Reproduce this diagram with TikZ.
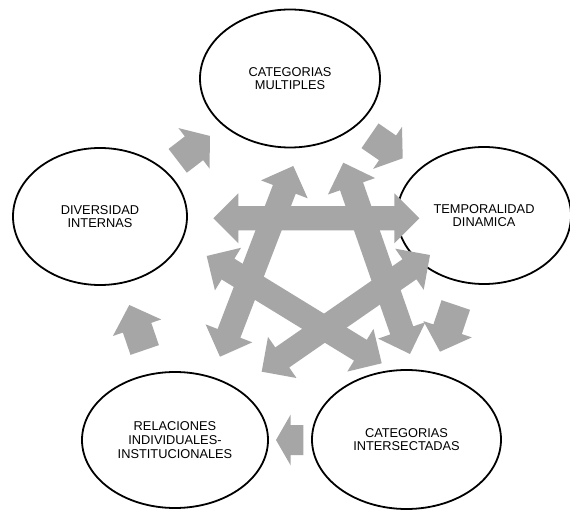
\documentclass[tikz,border=0pt]{standalone}
\usepackage{fontspec}
\setmainfont{Liberation Sans}
\usetikzlibrary{calc,shapes.geometric}
\definecolor{grayfill}{RGB}{166,166,166}
\tikzset{
  circ/.style={ellipse, draw=black, line width=1.8pt, inner sep=0pt, align=center,
    font=\fontsize{12.8}{13.6}\selectfont},
  arrowfill/.style={fill=grayfill, draw=none},
}
% double-headed block arrow: prefix, tip 1, tip 2
\newcommand\dblarrow[3]{%
  \coordinate (#1-m1) at ($(#2)!25pt!(#3)$);
  \coordinate (#1-m2) at ($(#3)!25pt!(#2)$);
  \fill[arrowfill] (#2) -- ($(#1-m1)!25pt!90:(#3)$) -- ($(#1-m1)!12.2pt!90:(#3)$)
    -- ($(#1-m2)!12.2pt!-90:(#2)$) -- ($(#1-m2)!25pt!-90:(#2)$) -- (#3)
    -- ($(#1-m2)!25pt!90:(#2)$) -- ($(#1-m2)!12.2pt!90:(#2)$)
    -- ($(#1-m1)!12.2pt!-90:(#3)$) -- ($(#1-m1)!25pt!-90:(#3)$) -- cycle;
}
% single block arrow: prefix, tail, tip, head length
\newcommand\blkarrow[4]{%
  \coordinate (#1-h) at ($(#3)!#4pt!(#2)$);
  \fill[arrowfill] ($(#2)!15pt!90:(#3)$) -- ($(#1-h)!15pt!90:(#3)$)
    -- ($(#1-h)!25.5pt!90:(#3)$) -- (#3) -- ($(#1-h)!25.5pt!-90:(#3)$)
    -- ($(#1-h)!15pt!-90:(#3)$) -- ($(#2)!15pt!-90:(#3)$) -- cycle;
}
\begin{document}
\begin{tikzpicture}[x=1pt,y=-1pt]
\useasboundingbox (0,0) rectangle (570,510);
\fill[white] (0,0) rectangle (570,510);

% ellipses
\node[circ, minimum width=180pt, minimum height=138pt] (top) at (290,78.5) {CATEGORIAS\\MULTIPLES};
\node[circ, minimum width=174pt, minimum height=137pt] (left) at (100,216.5) {DIVERSIDAD\\INTERNAS};
\node[circ, minimum width=174pt, minimum height=137pt] (right) at (484,215.5) {TEMPORALIDAD\\DINAMICA};
\node[circ, minimum width=189pt, minimum height=139pt] (bright) at (406.5,439.5) {CATEGORIAS\\INTERSECTADAS};
\node[circ, minimum width=186pt, minimum height=136pt] (bleft) at (175,440) {RELACIONES\\INDIVIDUALES-\\INSTITUCIONALES};

% central pentagram of double arrows
\coordinate (h1) at (213.3,218.3); \coordinate (h2) at (419.3,218.3);
\coordinate (a1) at (220,356.7);   \coordinate (a2) at (293.3,166);
\coordinate (b1) at (343.3,162.7); \coordinate (b2) at (410,354);
\coordinate (c1) at (206.7,256);   \coordinate (c2) at (381.7,363.3);
\coordinate (d1) at (430,255);     \coordinate (d2) at (261.7,371.7);
\dblarrow{H}{h1}{h2}
\dblarrow{A}{a1}{a2}
\dblarrow{B}{b1}{b2}
\dblarrow{C}{c1}{c2}
\dblarrow{D}{d1}{d2}

% cycle arrows
\coordinate (k1t) at (177.7,160.8); \coordinate (k1p) at (210,136);
\coordinate (k2t) at (370,135.8);   \coordinate (k2p) at (402.7,158.3);
\coordinate (k3t) at (455.8,305);   \coordinate (k3p) at (440,351.7);
\coordinate (k4t) at (303.3,440);   \coordinate (k4p) at (276,440);
\coordinate (k5t) at (144.7,350);   \coordinate (k5p) at (129.3,305);
\blkarrow{K1}{k1t}{k1p}{20.2}
\blkarrow{K2}{k2t}{k2p}{18.4}
\blkarrow{K3}{k3t}{k3p}{23.7}
\blkarrow{K4}{k4t}{k4p}{14.7}
\blkarrow{K5}{k5t}{k5p}{24}
\end{tikzpicture}
\end{document}
